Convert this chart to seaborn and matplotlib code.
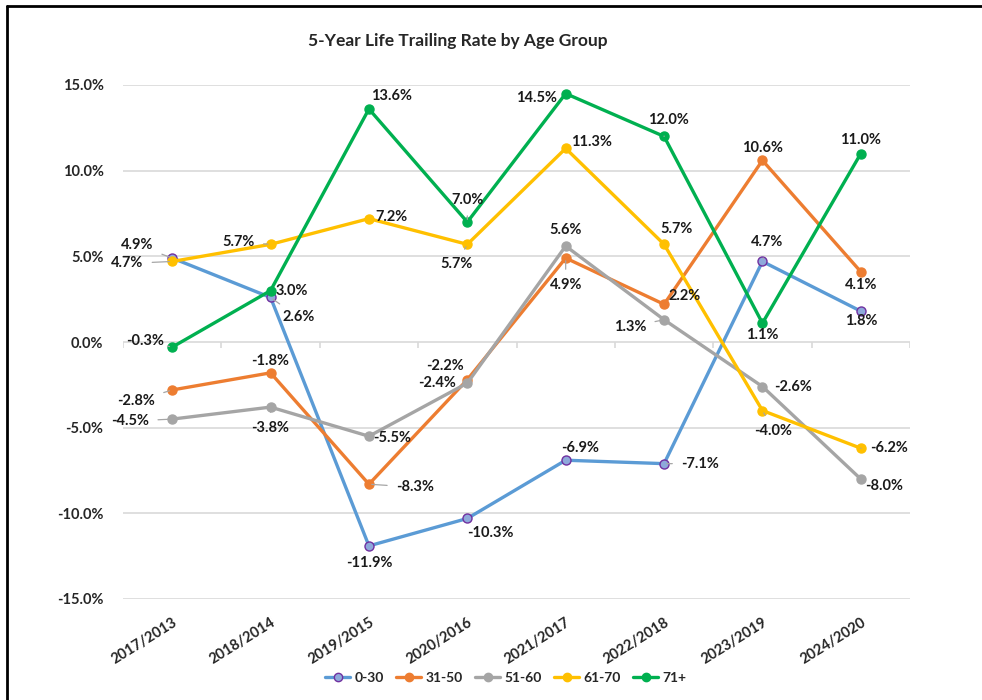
import numpy as np
import pandas as pd
import matplotlib.pyplot as plt
from matplotlib.lines import Line2D
import seaborn as sns

# data
periods = ['2017/2013', '2018/2014', '2019/2015', '2020/2016',
           '2021/2017', '2022/2018', '2023/2019', '2024/2020']
age_0_30 = [4.9, 2.6, -11.9, -10.3, -6.9, -7.1, 4.7, 1.8]
age_31_50 = [-2.8, -1.8, -8.3, -2.2, 4.9, 2.2, 10.6, 4.1]
age_51_60 = [-4.5, -3.8, -5.5, -2.4, 5.6, 1.3, -2.6, -8.0]
age_61_70 = [4.7, 5.7, 7.2, 5.7, 11.3, 5.7, -4.0, -6.2]
age_71_up = [-0.3, 3.0, 13.6, 7.0, 14.5, 12.0, 1.1, 11.0]
groups = ['0-30', '31-50', '51-60', '61-70', '71+']
y_ticks = [-15, -10, -5, 0, 5, 10, 15]

# styling (label offsets in pixels, leader-line flags)
colors = ['#5B9BD5', '#ED7D31', '#A5A5A5', '#FFC000', '#00B050']
edge_colors = ['#7030A0', '#ED7D31', '#A5A5A5', '#FFC000', '#00B050']
face_colors = ['#8EA9DB', '#ED7D31', '#A5A5A5', '#FFC000', '#00B050']
offsets = [
    [(-35, 13), (28, -20), (0, -17), (23, -15), (14, 12), (36, 0), (5, 19), (0, -10)],
    [(-36, -11), (0, 12), (46, -3), (-22, 14), (0, -27), (21, 8), (0, 12), (0, -13)],
    [(-42, -2), (0, -21), (23, -2), (-30, 0), (0, 16), (-34, -7), (31, 0), (23, -7)],
    [(-45, -2), (-32, 2), (23, 2), (-11, -20), (26, 6), (12, 15), (11, -20), (28, 0)],
    [(-27, 6), (21, 0), (23, 13), (0, 22), (-29, -4), (4, 16), (0, -12), (0, 14)],
]
leaders = [
    [1, 1, 0, 0, 0, 1, 1, 0],
    [1, 0, 1, 0, 1, 0, 0, 0],
    [1, 1, 0, 0, 0, 1, 0, 0],
    [1, 1, 0, 1, 0, 0, 1, 1],
    [1, 0, 0, 1, 0, 1, 0, 0],
]

series = [age_0_30, age_31_50, age_51_60, age_61_70, age_71_up]

sns.set_style('white')
plt.rcParams['font.family'] = ['Lato', 'DejaVu Sans']

fig = plt.figure(figsize=(9.82, 7.0), dpi=100)
ax = fig.add_axes([123 / 982, 1 - 599 / 700, (910 - 123) / 982, (599 - 85) / 700])

# grid
for t in y_ticks:
    ax.axhline(t, color='#D9D9D9', lw=1.2, zorder=0)
ax.vlines(np.arange(-0.5, len(periods)), -0.35, 0, color='#D9D9D9', lw=1.2, zorder=0)

for i, (name, vals) in enumerate(zip(groups, series)):
    df = pd.DataFrame({'period': periods, 'value': vals})
    sns.lineplot(data=df, x='period', y='value', ax=ax, color=colors[i],
                 lw=2.4, marker='o', markersize=6.5, markeredgewidth=1.0,
                 markeredgecolor=edge_colors[i], markerfacecolor=face_colors[i],
                 sort=False, zorder=3 + i)
    for j, v in enumerate(vals):
        dx, dy = offsets[i][j]
        arrow = None
        if leaders[i][j]:
            arrow = dict(arrowstyle='-', color='#A6A6A6', lw=0.9,
                         shrinkA=4, shrinkB=2)
        ax.annotate(f'{v:.1f}%', xy=(j, v), xytext=(dx, dy),
                    textcoords='offset pixels', ha='center', va='center',
                    fontsize=10.5, fontweight='bold', color='#1a1a1a',
                    arrowprops=arrow, zorder=10)

ax.set_xlim(-0.5, len(periods) - 0.5)
ax.set_ylim(-15, 15)
ax.set_yticks(y_ticks)
ax.set_yticklabels([f'{t:.1f}%' for t in y_ticks], fontsize=10.5, fontweight='bold')
ax.tick_params(axis='y', length=0, pad=14)
ax.set_xticks(range(len(periods)))
ax.set_xticklabels(periods, rotation=32, ha='right', rotation_mode='anchor',
                   fontsize=10.5, fontweight='bold')
ax.tick_params(axis='x', length=0, pad=12)
ax.set_xlabel('')
ax.set_ylabel('')
for s in ax.spines.values():
    s.set_visible(False)

ax.set_title('5-Year Life Trailing Rate by Age Group', fontsize=12.5,
             fontweight='bold', pad=28, x=0.425)

handles = [Line2D([0], [0], color=colors[i], lw=2.4, marker='o', markersize=6,
                  markeredgecolor=edge_colors[i], markerfacecolor=face_colors[i])
           for i in range(len(groups))]
fig.legend(handles, groups, loc='center', bbox_to_anchor=(0.515, 1 - 678 / 700),
           ncol=5, frameon=False, prop={'weight': 'bold', 'size': 10},
           handlelength=1.8, columnspacing=0.9, handletextpad=0.3)

# chart border (left and top edges visible in the reference)
fig.add_artist(Line2D([7 / 982, 7 / 982], [0, 1 - 6 / 700], color='black', lw=2,
                      transform=fig.transFigure))
fig.add_artist(Line2D([7 / 982, 1], [1 - 6 / 700, 1 - 6 / 700], color='black', lw=2,
                      transform=fig.transFigure))

fig.savefig('out.png', dpi=100)
